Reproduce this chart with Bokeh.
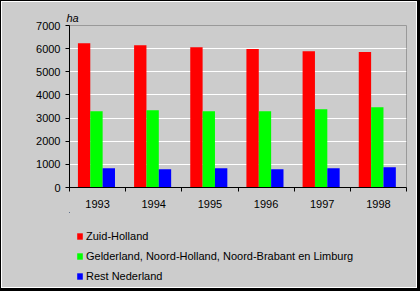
from bokeh.plotting import figure
from bokeh.models import FixedTicker, Legend, LegendItem, ColumnDataSource
from bokeh.layouts import column
from bokeh.transform import dodge
from bokeh.embed import file_html
from bokeh.resources import INLINE

years = ["1993", "1994", "1995", "1996", "1997", "1998"]
zuid_holland = [6230, 6150, 6060, 5980, 5890, 5850]
gelderland_nh_nb_limburg = [3300, 3340, 3300, 3300, 3380, 3470]
rest_nederland = [830, 790, 830, 790, 830, 870]
series_names = ["Zuid-Holland",
                "Gelderland, Noord-Holland, Noord-Brabant en Limburg",
                "Rest Nederland"]
series_colors = ["#ff0000", "#00ff00", "#0000ff"]
y_ticks = [0, 1000, 2000, 3000, 4000, 5000, 6000, 7000]
unit_label = "ha"

xs = [i + 0.5 for i in range(len(years))]
src = ColumnDataSource(dict(x=xs, zh=zuid_holland, gn=gelderland_nh_nb_limburg, rn=rest_nederland))
cols = ["zh", "gn", "rn"]
offsets = [-0.24, -0.02, 0.20]

FONT = "Liberation Sans"
BG = "#cccccc"

p = figure(width=414, height=210, x_range=(0, len(years)), y_range=(0, 7000),
           output_backend="svg", toolbar_location=None,
           min_border_left=67, min_border_right=10, min_border_top=23, min_border_bottom=25,
           background_fill_color=BG, border_fill_color=BG)

w = 0.22
for c, off, col in zip(cols, offsets, series_colors):
    p.vbar(x=dodge("x", off, range=p.x_range), top=c, width=w, source=src,
           fill_color=col, line_color=None)

p.outline_line_color = "#999999"
p.xgrid.visible = False
p.ygrid.ticker = FixedTicker(ticks=y_ticks)
p.ygrid.grid_line_color = "white"
p.ygrid.grid_line_width = 1

xa = p.xaxis[0]
xa.ticker = FixedTicker(ticks=xs, minor_ticks=list(range(len(years) + 1)))
xa.major_label_overrides = {x: y for x, y in zip(xs, years)}
xa.major_tick_out = 0
xa.major_tick_in = 0
xa.minor_tick_out = 4
xa.minor_tick_in = 0
xa.minor_tick_line_color = "black"
xa.axis_line_color = "black"
xa.major_label_standoff = 8
xa.major_label_text_font = FONT
xa.major_label_text_font_size = "11px"
xa.major_label_text_color = "black"

ya = p.yaxis[0]
ya.ticker = FixedTicker(ticks=y_ticks)
ya.major_tick_out = 4
ya.major_tick_in = 0
ya.minor_tick_out = 0
ya.minor_tick_in = 0
ya.major_tick_line_color = "black"
ya.axis_line_color = "black"
ya.major_label_standoff = 5
ya.major_label_text_font = FONT
ya.major_label_text_font_size = "11px"
ya.major_label_text_color = "black"

p.title.text = unit_label
p.title.text_font = FONT
p.title.text_font_style = "italic"
p.title.text_font_size = "11px"
p.title.text_color = "black"
p.title.align = "left"
p.title.offset = -3
p.title.standoff = 4

# legend panel: same series as zero-height bars away from the view,
# so only the legend keys show here
lf = figure(width=414, height=75, x_range=(100, 106), y_range=(-2, -1),
            output_backend="svg", toolbar_location=None,
            x_axis_location=None, y_axis_location=None,
            min_border_left=67, min_border_right=10, min_border_top=0, min_border_bottom=0,
            background_fill_color=BG, background_fill_alpha=0,
            border_fill_color=BG, border_fill_alpha=0)
lf.grid.visible = False
lf.outline_line_color = None
items = []
for name, c, col in zip(series_names, cols, series_colors):
    r = lf.vbar(x="x", top=c, bottom=c, width=w, source=src, fill_color=col, line_color=None)
    items.append(LegendItem(label=name, renderers=[r]))

legend = Legend(items=items, location=(7, 4), background_fill_alpha=0, border_line_alpha=0,
                glyph_width=7, glyph_height=8, label_text_font=FONT,
                label_text_font_size="11px", label_text_color="black",
                label_standoff=3, spacing=6,
                label_height=14, padding=0, margin=0)
lf.add_layout(legend)

layout = column(p, lf, spacing=0,
                styles={"border-style": "solid", "border-color": "black",
                        "border-width": "1px 3px 3px 1px", "padding": "1px",
                        "background-color": BG,
                        "box-shadow": "inset 0 0 0 1px white"})

open("out.html", "w").write(file_html(layout, INLINE))
